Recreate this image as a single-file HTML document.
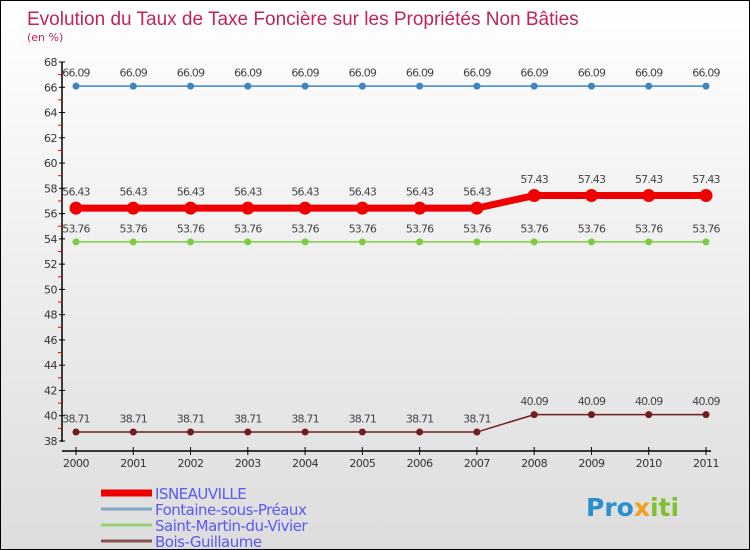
<!DOCTYPE html>
<html><head><meta charset="utf-8"><style>
body{margin:0;}
#c{width:750px;height:550px;position:relative;overflow:hidden;box-sizing:border-box;border:1px solid #000;background:linear-gradient(#fff,#ddd);font-family:"DejaVu Sans","Liberation Sans",sans-serif;}
</style></head><body>
<div id="c">
<svg id="s" width="750" height="550" style="position:absolute;left:0;top:0">
<text x="26" y="24" font-size="19" fill="#c0245c" font-family="Liberation Sans,sans-serif">Evolution du Taux de Taxe Foncière sur les Propriétés Non Bâties</text>
<text x="26" y="40" font-size="11" fill="#c0245c">(en %)</text>
<text x="585" y="515" font-size="25" font-weight="bold" fill="#2a8fd0">Pro<tspan fill="#f0a020">x</tspan><tspan fill="#80c030">iti</tspan></text>
</svg>
</div>
<script>
const years=[2000,2001,2002,2003,2004,2005,2006,2007,2008,2009,2010,2011];
const isneauville=[56.43,56.43,56.43,56.43,56.43,56.43,56.43,56.43,57.43,57.43,57.43,57.43];
const fontaine=[66.09,66.09,66.09,66.09,66.09,66.09,66.09,66.09,66.09,66.09,66.09,66.09];
const saintMartin=[53.76,53.76,53.76,53.76,53.76,53.76,53.76,53.76,53.76,53.76,53.76,53.76];
const boisGuillaume=[38.71,38.71,38.71,38.71,38.71,38.71,38.71,38.71,40.09,40.09,40.09,40.09];
const yTicks=[38,40,42,44,46,48,50,52,54,56,58,60,62,64,66,68];
const seriesNames=["ISNEAUVILLE","Fontaine-sous-Préaux","Saint-Martin-du-Vivier","Bois-Guillaume"];
const NS="http://www.w3.org/2000/svg";
const s=document.getElementById('s');
const X=i=>75+i*(630/11);
const Y=v=>440-(v-38)*(379/30);
function el(t,a,p){const e=document.createElementNS(NS,t);for(const k in a)e.setAttribute(k,a[k]);(p||s).appendChild(e);return e;}
let ya=el('line',{x1:61,y1:61,x2:61,y2:441,stroke:'#000','stroke-width':1.5});


let xa=el('line',{x1:61,y1:450,x2:710,y2:450,stroke:'#000','stroke-width':1.5});


yTicks.forEach(v=>{
 el('line',{x1:58,y1:Y(v),x2:64,y2:Y(v),stroke:'#000'});
 if(v<68){el('line',{x1:57,y1:Y(v+1),x2:61,y2:Y(v+1),stroke:'#e00'});}
 const t=el('text',{x:56,y:Y(v)+4,'font-size':11,fill:'#333','text-anchor':'end','letter-spacing':'-0.5'});
 t.textContent=v;
 
 
});
years.forEach((yr,i)=>{
 el('line',{x1:X(i),y1:446,x2:X(i),y2:454,stroke:'#000'});
 const t=el('text',{x:X(i),y:466,'font-size':11,fill:'#333','text-anchor':'middle','letter-spacing':'-0.5'});
 t.textContent=yr;
 
 
});
function series(data,color,w,r,name,fmt){
 const g=el('g',{});
 
 
 el('polyline',{points:data.map((v,i)=>X(i)+','+Y(v)).join(' '),fill:'none',stroke:color,'stroke-width':w},g);
 data.forEach((v,i)=>{
  const c=el('circle',{cx:X(i),cy:Y(v),r:r,fill:color},g);
  
  
  const t=el('text',{x:X(i),y:Y(v)-(r+6),'font-size':11,fill:'#444','text-anchor':'middle','letter-spacing':'-0.8'},g);
  t.textContent=fmt(v);
  
  
 });
}
const f2=v=>v.toFixed(2);
series(fontaine,'#3d86c0',1.5,3.5,'fontaine-series',f2);
series(saintMartin,'#7fcc44',1.5,3.5,'saint-martin-series',f2);
series(boisGuillaume,'#6e1e1e',1.5,3.5,'bois-guillaume-series',f2);
series(isneauville,'#ee0000',7,6.5,'isneauville-series',f2);
const colors=['#ee0000','#7fa8c8','#98d070','#8a5050'];
const widths=[7,3,3,3];
seriesNames.forEach((n,i)=>{
 const y=492+i*16;
 const l=el('line',{x1:100,y1:y,x2:151,y2:y,stroke:colors[i],'stroke-width':widths[i]});
 
 
 const t=el('text',{x:154,y:y+6,'font-size':15,fill:'#5a5af0','letter-spacing':'-0.5'});
 t.textContent=n;
 
 
});
</script>
</body></html>
